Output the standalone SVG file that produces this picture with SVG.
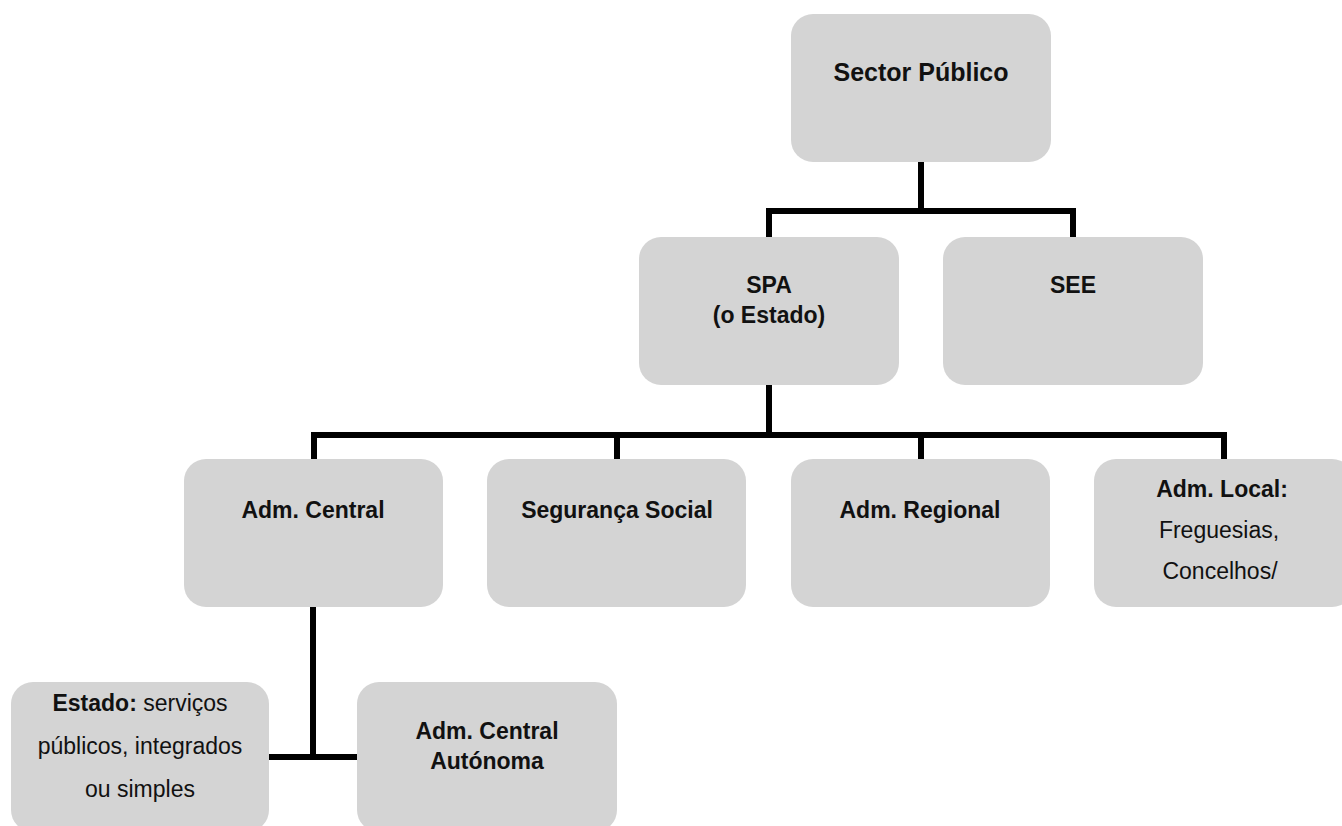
<svg xmlns="http://www.w3.org/2000/svg" width="1342" height="826" viewBox="0 0 1342 826">
  <style>
    .box { fill: #d4d4d4; }
    .link { fill: none; stroke: #000; stroke-width: 6; stroke-linecap: butt; stroke-linejoin: miter; }
    text { font-family: "Liberation Sans", Arial, sans-serif; font-size: 23px; fill: #111; text-anchor: middle; }
    .b { font-weight: bold; }
    .r { font-weight: normal; }
  </style>
  <rect width="1342" height="826" fill="#ffffff"/>

  <!-- connectors -->
  <g id="connectors">
    <path class="link" d="M921 162 V211 M768 211 H1073 M769 208 V237 M1073 208 V237"/>
    <path class="link" d="M769 385 V435 M313 435 H1227 M314 432 V459 M617 432 V459 M921 432 V459 M1224 432 V459"/>
    <path class="link" d="M313 607 V760 M269 757 H357"/>
  </g>

  <g id="sector-publico">
    <rect class="box" x="791" y="14" width="260" height="148" rx="22"/>
    <text class="b" x="921" y="81" style="font-size:25px">Sector Público</text>
  </g>

  <g id="spa">
    <rect class="box" x="639" y="237" width="260" height="148" rx="22"/>
    <text class="b" x="769" y="293">SPA</text>
    <text class="b" x="769" y="323">(o Estado)</text>
  </g>

  <g id="see">
    <rect class="box" x="943" y="237" width="260" height="148" rx="22"/>
    <text class="b" x="1073" y="293">SEE</text>
  </g>

  <g id="adm-central">
    <rect class="box" x="184" y="459" width="259" height="148" rx="22"/>
    <text class="b" x="313" y="518">Adm. Central</text>
  </g>

  <g id="seguranca-social">
    <rect class="box" x="487" y="459" width="259" height="148" rx="22"/>
    <text class="b" x="617" y="518">Segurança Social</text>
  </g>

  <g id="adm-regional">
    <rect class="box" x="791" y="459" width="259" height="148" rx="22"/>
    <text class="b" x="920" y="518">Adm. Regional</text>
  </g>

  <g id="adm-local">
    <rect class="box" x="1094" y="459" width="260" height="148" rx="22"/>
    <text class="b" x="1222" y="497">Adm. Local:</text>
    <text class="r" x="1219" y="538">Freguesias,</text>
    <text class="r" x="1220" y="579">Concelhos/</text>
  </g>

  <g id="estado">
    <rect class="box" x="11" y="682" width="258" height="150" rx="22"/>
    <text x="140" y="711"><tspan class="b">Estado:</tspan><tspan class="r"> serviços</tspan></text>
    <text class="r" x="140" y="754">públicos, integrados</text>
    <text class="r" x="140" y="797">ou simples</text>
  </g>

  <g id="adm-central-autonoma">
    <rect class="box" x="357" y="682" width="260" height="150" rx="22"/>
    <text class="b" x="487" y="739">Adm. Central</text>
    <text class="b" x="487" y="769">Autónoma</text>
  </g>
</svg>
